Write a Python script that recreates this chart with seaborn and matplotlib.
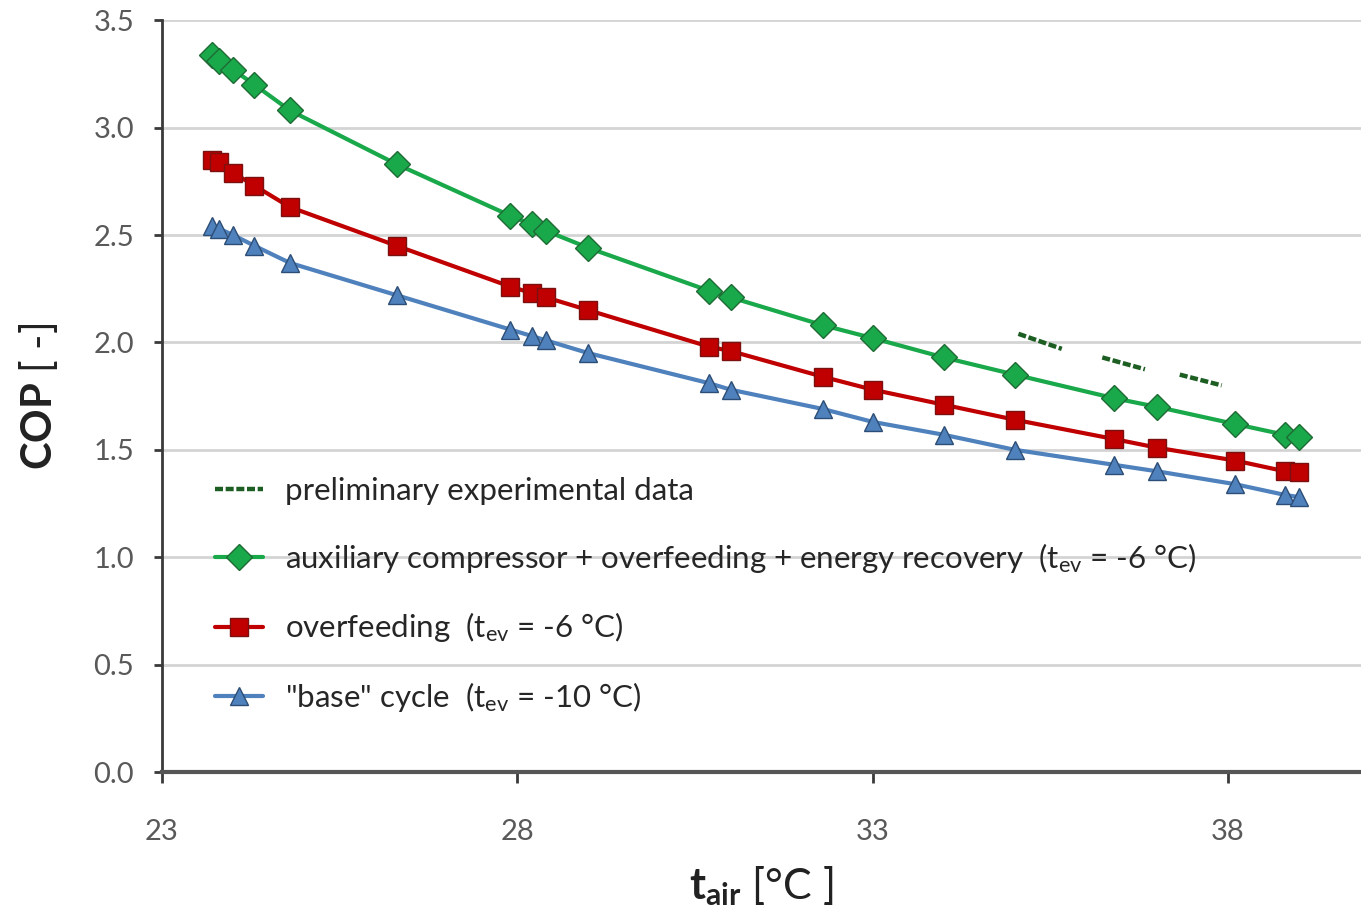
import pandas as pd
import seaborn as sns
import matplotlib.pyplot as plt

# air temperature [°C], shared by the three model curves
T_AIR = [23.7, 23.8, 24.0, 24.3, 24.8, 26.3, 27.9, 28.2, 28.4, 29.0, 30.7,
         31.0, 32.3, 33.0, 34.0, 35.0, 36.4, 37.0, 38.1, 38.8, 39.0]

COP_AUX = [3.34, 3.31, 3.27, 3.20, 3.08, 2.83, 2.59, 2.55, 2.52, 2.44, 2.24,
           2.21, 2.08, 2.02, 1.93, 1.85, 1.74, 1.70, 1.62, 1.57, 1.56]
COP_OVER = [2.85, 2.84, 2.79, 2.73, 2.63, 2.45, 2.26, 2.23, 2.21, 2.15, 1.98,
            1.96, 1.84, 1.78, 1.71, 1.64, 1.55, 1.51, 1.45, 1.40, 1.395]
COP_BASE = [2.54, 2.53, 2.50, 2.45, 2.37, 2.22, 2.06, 2.03, 2.01, 1.95, 1.81,
            1.78, 1.69, 1.63, 1.57, 1.50, 1.43, 1.40, 1.34, 1.29, 1.28]

# preliminary experimental data: three short segments
EXP_SEG = [1, 1, 2, 2, 3, 3]
EXP_T = [35.05, 35.66, 36.23, 36.83, 37.32, 37.91]
EXP_COP = [2.04, 1.97, 1.93, 1.875, 1.85, 1.80]

LABELS = [
    'preliminary experimental data',
    r'auxiliary compressor + overfeeding + energy recovery  (t$_{\rm ev}$ = -6 °C)',
    r'overfeeding  (t$_{\rm ev}$ = -6 °C)',
    r'"base" cycle  (t$_{\rm ev}$ = -10 °C)',
]

FONT = 'Lato'
TICK_COLOR = '#595959'


def main():
    sns.set_theme(style='white')
    plt.rcParams['font.family'] = [FONT, 'DejaVu Sans']
    plt.rcParams['mathtext.fontset'] = 'custom'
    plt.rcParams['mathtext.rm'] = FONT
    plt.rcParams['mathtext.it'] = FONT
    plt.rcParams['mathtext.bf'] = FONT + ':bold'

    fig = plt.figure(figsize=(13.61, 9.18), dpi=100)
    ax = fig.add_axes([0.119, 0.159, 0.881, 0.819])

    exp = pd.DataFrame({'t': EXP_T, 'cop': EXP_COP, 'seg': EXP_SEG})
    sns.lineplot(data=exp, x='t', y='cop', units='seg', estimator=None,
                 color='#1d5e22', linewidth=3.2, ax=ax, legend=False,
                 linestyle=(0, (1.8, 0.6)))
    exp_line = ax.lines[0]

    sns.lineplot(x=T_AIR, y=COP_AUX, ax=ax, color='#19a84a', linewidth=3,
                 marker='D', markersize=13, markeredgecolor='#1f6b35',
                 markeredgewidth=1, label=LABELS[1])
    sns.lineplot(x=T_AIR, y=COP_OVER, ax=ax, color='#c00000', linewidth=3,
                 marker='s', markersize=13, markeredgecolor='#7a1010',
                 markeredgewidth=1, label=LABELS[2])
    sns.lineplot(x=T_AIR, y=COP_BASE, ax=ax, color='#4f81bd', linewidth=3,
                 marker='^', markersize=13, markeredgecolor='#2c4d75',
                 markeredgewidth=1, label=LABELS[3])

    ax.set_xlim(23, 39.87)
    ax.set_ylim(0, 3.5)
    ax.set_xticks([23, 28, 33, 38])
    ax.set_yticks([0.0, 0.5, 1.0, 1.5, 2.0, 2.5, 3.0, 3.5])
    ax.set_yticklabels([f'{v:.1f}' for v in ax.get_yticks()])

    ax.yaxis.grid(True, color='#d4d4d4', linewidth=2)
    ax.xaxis.grid(False)
    sns.despine(ax=ax, top=True, right=True)
    ax.spines['left'].set_color('#3a3a3a')
    ax.spines['left'].set_linewidth(2)
    ax.spines['bottom'].set_color('#555555')
    ax.spines['bottom'].set_linewidth(3)

    ax.tick_params(axis='y', which='major', direction='out', length=6,
                   width=2, color='#3a3a3a', left=True, pad=14,
                   labelsize=21, labelcolor=TICK_COLOR)
    ax.tick_params(axis='x', which='major', direction='out', length=8,
                   width=2, color='#3a3a3a', bottom=True, pad=26,
                   labelsize=21, labelcolor=TICK_COLOR)

    ax.set_xlabel(r'$\mathbf{t}_{\mathbf{air}}$ [°C ]', fontsize=31,
                  color='#222222', labelpad=14)
    ax.set_ylabel(r'$\mathbf{COP}$ [ -]', fontsize=30, color='#222222',
                  labelpad=24)

    handles, labels = ax.get_legend_handles_labels()
    ax.legend([exp_line] + handles, [LABELS[0]] + labels,
              loc='upper left', bbox_to_anchor=(0.044, 0.393), frameon=False,
              fontsize=22.5, handlelength=1.55, handletextpad=0.7,
              labelspacing=1.15, borderpad=0, borderaxespad=0, numpoints=1)

    fig.savefig('out.png', dpi=100)


if __name__ == '__main__':
    main()
